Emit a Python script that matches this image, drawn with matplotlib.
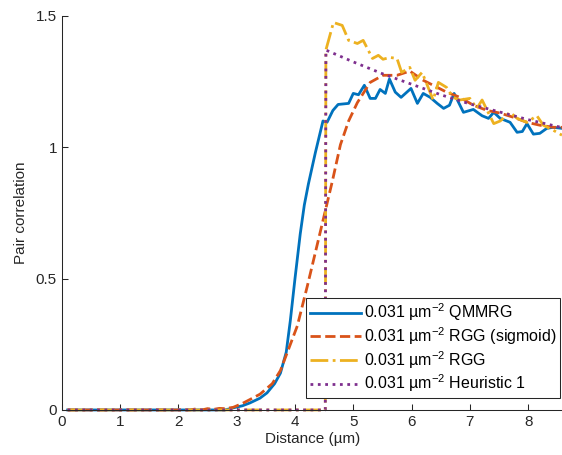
import matplotlib
matplotlib.use("Agg")
from matplotlib import pyplot as plt

plt.rcParams['font.family'] = ['Liberation Sans', 'DejaVu Sans']
plt.rcParams['mathtext.default'] = 'regular'

# QMMRG (blue, solid)
qmmrg_x = [0.1, 2.8, 2.94, 3.1, 3.23, 3.4, 3.52, 3.65, 3.75, 3.85, 3.92, 4.0, 4.09, 4.16,
           4.23, 4.35, 4.48, 4.55, 4.65, 4.74, 4.92, 5.0, 5.09, 5.19, 5.29, 5.38, 5.46,
           5.55, 5.62, 5.72, 5.82, 5.99, 6.10, 6.2, 6.32, 6.44, 6.55, 6.65, 6.73, 6.89,
           7.06, 7.21, 7.32, 7.41, 7.52, 7.69, 7.81, 7.9, 7.98, 8.09, 8.2, 8.32, 8.43, 8.58]
qmmrg_y = [0, 0, 0.008, 0.016, 0.027, 0.045, 0.065, 0.10, 0.14, 0.22, 0.34, 0.50, 0.67, 0.78,
           0.86, 0.98, 1.10, 1.095, 1.14, 1.163, 1.167, 1.205, 1.20, 1.236, 1.186, 1.186, 1.22,
           1.205, 1.26, 1.21, 1.19, 1.224, 1.167, 1.205, 1.19, 1.167, 1.148, 1.16, 1.205, 1.133,
           1.144, 1.12, 1.11, 1.133, 1.11, 1.095, 1.057, 1.06, 1.09, 1.05, 1.053, 1.072, 1.076, 1.072]

# RGG (sigmoid) (orange, dashed)
sig_x = [0.1, 2.2, 2.3, 2.4, 2.5, 2.6, 2.7, 2.8, 2.94, 3.1, 3.23, 3.4, 3.61, 3.75, 3.87, 4.04,
         4.21, 4.35, 4.49, 4.64, 4.78, 4.92, 5.07, 5.29, 5.51, 5.75, 5.97, 6.2, 6.37, 6.6,
         6.83, 7.06, 7.3, 7.52, 7.75, 7.98, 8.2, 8.43, 8.58]
sig_y = [0, 0, 0.004, 0, 0.005, 0.002, 0.006, 0.005, 0.01, 0.025, 0.04, 0.06, 0.10, 0.15, 0.22, 0.32,
         0.47, 0.60, 0.73, 0.87, 1.01, 1.10, 1.17, 1.247, 1.274, 1.274, 1.29, 1.255, 1.236, 1.21,
         1.19, 1.16, 1.14, 1.13, 1.114, 1.095, 1.084, 1.076, 1.076]

# RGG (yellow, dash-dot)
rgg_x = [0.1, 4.52, 4.53, 4.66, 4.81, 4.92, 5.07, 5.17, 5.33, 5.43, 5.51, 5.63, 5.75, 5.83, 5.97,
         6.06, 6.18, 6.27, 6.37, 6.46, 6.6, 6.71, 6.83, 7.0, 7.12, 7.21, 7.32, 7.41, 7.52, 7.69,
         7.81, 7.98, 8.15, 8.26, 8.43, 8.58]
rgg_y = [0, 0, 1.37, 1.475, 1.464, 1.407, 1.395, 1.407, 1.338, 1.35, 1.335, 1.342, 1.338, 1.285, 1.304,
         1.255, 1.285, 1.236, 1.18, 1.247, 1.228, 1.19, 1.18, 1.186, 1.148, 1.18, 1.13, 1.09, 1.10, 1.133,
         1.11, 1.095, 1.12, 1.084, 1.065, 1.046]

# Heuristic 1 (purple, dotted)
heur_x = [0.1, 4.52, 4.53, 5.0, 5.5, 6.0, 6.5, 7.0, 7.5, 8.0, 8.58]
heur_y = [0, 0, 1.37, 1.325, 1.28, 1.24, 1.20, 1.165, 1.135, 1.105, 1.075]

labels = ['0.031 µm$^{-2}$ QMMRG', '0.031 µm$^{-2}$ RGG (sigmoid)',
          '0.031 µm$^{-2}$ RGG', '0.031 µm$^{-2}$ Heuristic 1']

fig = plt.figure(figsize=(5.62, 4.55), dpi=100)
ax = fig.add_axes([0.110, 0.099, 0.892, 0.866])

ax.plot(qmmrg_x, qmmrg_y, '-', color='#0072BD', lw=2, label=labels[0], clip_on=False)
ax.plot(sig_x, sig_y, '--', color='#D95319', lw=2, label=labels[1], clip_on=False)
ax.plot(rgg_x, rgg_y, '-.', color='#EDB120', lw=2, label=labels[2], clip_on=False)
ax.plot(heur_x, heur_y, ':', color='#7E2F8E', lw=2, label=labels[3], clip_on=False)

ax.set_xlim(0, 8.6)
ax.set_ylim(0, 1.5)
ax.set_xticks(range(0, 9))
ax.set_yticks([0, 0.5, 1, 1.5])
ax.set_yticklabels(['0', '0.5', '1', '1.5'])
ax.tick_params(direction='in', labelsize=11, colors='#262626', length=4, width=0.75)
for s in ['top', 'right']:
    ax.spines[s].set_visible(False)
for s in ['left', 'bottom']:
    ax.spines[s].set_color('#262626')
    ax.spines[s].set_linewidth(0.75)

ax.set_xlabel('Distance (µm)', fontsize=11, color='#262626', labelpad=2)
ax.set_ylabel('Pair correlation', fontsize=11, color='#262626', labelpad=6)

leg = ax.legend(loc='lower right', bbox_to_anchor=(0.994, 0.03), borderaxespad=0,
                fontsize=11.5, fancybox=False, framealpha=1, edgecolor='#262626',
                handlelength=3.2, handletextpad=0.15, borderpad=0.25, labelspacing=0.12)
leg.get_frame().set_linewidth(0.75)

fig.savefig('out.png', dpi=100)
